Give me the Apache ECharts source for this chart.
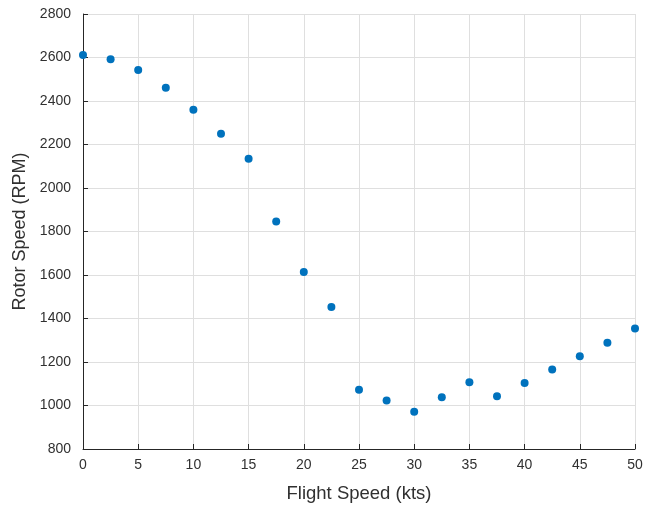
<!DOCTYPE html>
<html>
<head>
<meta charset="utf-8">
<script src="https://cdn.jsdelivr.net/npm/echarts@6/dist/echarts.min.js"></script>
<style>
  html, body { margin: 0; padding: 0; background: #fff; }
  #chart { width: 658px; height: 508px; }
</style>
</head>
<body>
<div id="chart"></div>
<script>
// Flight speed (kts) and measured rotor speed (RPM)
const flightSpeed = [0, 2.5, 5, 7.5, 10, 12.5, 15, 17.5, 20, 22.5, 25, 27.5, 30, 32.5, 35, 37.5, 40, 42.5, 45, 47.5, 50];
const rotorSpeed = [2611, 2592, 2542, 2461, 2360, 2250, 2135, 1846, 1614, 1453, 1072, 1023, 971, 1038, 1107, 1043, 1103, 1165, 1226, 1289, 1354];

const xTicks = { min: 0, max: 50, interval: 5 };
const yTicks = { min: 800, max: 2800, interval: 200 };

const points = flightSpeed.map((x, i) => [x, rotorSpeed[i]]);

const textColor = '#303030';
const fontFamily = '"Liberation Sans", Arial, Helvetica, sans-serif';

const chart = echarts.init(document.getElementById('chart'), null, { renderer: 'canvas' });
chart.setOption({
  animation: false,
  backgroundColor: '#ffffff',
  grid: { left: 83, right: 23, top: 14, bottom: 59, containLabel: false },
  xAxis: {
    type: 'value',
    min: xTicks.min, max: xTicks.max, interval: xTicks.interval,
    name: 'Flight Speed (kts)',
    nameLocation: 'middle',
    nameGap: 35,
    nameTextStyle: { color: textColor, fontSize: 18.5, fontFamily },
    axisLine: { show: true, onZero: false, lineStyle: { color: '#262626', width: 1 } },
    axisTick: { show: true, inside: true, length: 5, lineStyle: { color: '#262626' } },
    axisLabel: { color: textColor, fontSize: 14, fontFamily, margin: 9, formatter: v => String(v) },
    splitLine: { show: true, lineStyle: { color: '#dfdfdf', width: 1 } }
  },
  yAxis: {
    type: 'value',
    min: yTicks.min, max: yTicks.max, interval: yTicks.interval,
    name: 'Rotor Speed (RPM)',
    nameLocation: 'middle',
    nameGap: 50,
    nameRotate: 90,
    nameTextStyle: { color: textColor, fontSize: 18, fontFamily },
    axisLine: { show: true, onZero: false, lineStyle: { color: '#262626', width: 1 } },
    axisTick: { show: true, inside: true, length: 5, lineStyle: { color: '#262626' } },
    axisLabel: { color: textColor, fontSize: 14, fontFamily, margin: 12, formatter: v => String(v) },
    splitLine: { show: true, lineStyle: { color: '#dfdfdf', width: 1 } }
  },
  series: [{
    type: 'scatter',
    data: points,
    symbol: 'circle',
    symbolSize: 8,
    clip: false,
    itemStyle: { color: '#0072BD', opacity: 1 }
  }]
});
</script>
</body>
</html>
